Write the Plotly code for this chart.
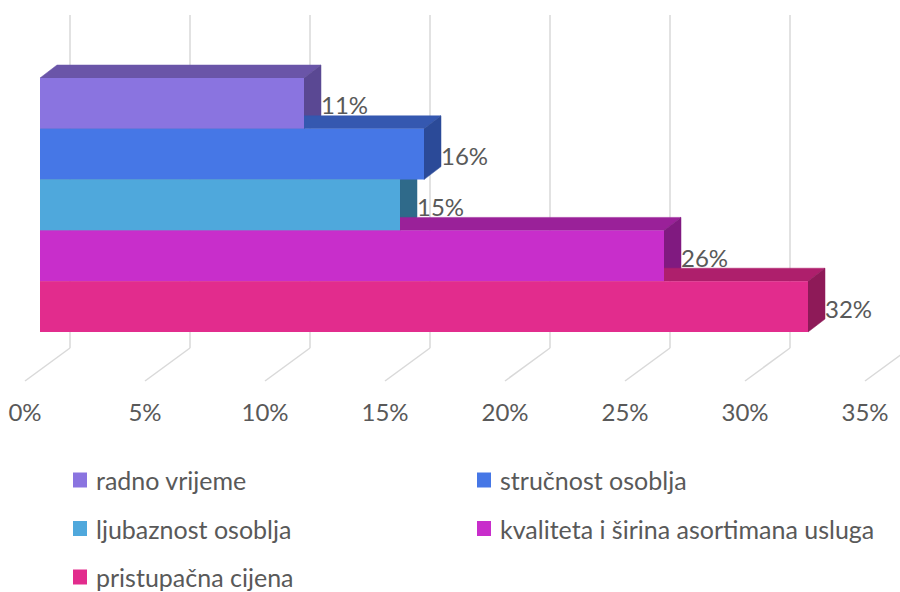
import plotly.graph_objects as go

# ---------------- data ----------------
CATEGORIES = ["radno vrijeme", "stručnost osoblja", "ljubaznost osoblja",
              "kvaliteta i širina asortimana usluga", "pristupačna cijena"]
VALUES = [11, 16, 15, 26, 32]
VALUE_LABELS = ["11%", "16%", "15%", "26%", "32%"]
TICK_VALUES = [0, 5, 10, 15, 20, 25, 30, 35]
TICK_LABELS = ["0%", "5%", "10%", "15%", "20%", "25%", "30%", "35%"]

FRONT_COLORS = ["#8A74E0", "#4677E6", "#4FA8DC", "#C82ECB", "#E22C8D"]
TOP_COLORS = ["#6A55A8", "#3558B0", "#3A7DA5", "#9A2199", "#AE1F6C"]
SIDE_COLORS = ["#5A4893", "#2B4A98", "#2F6A8A", "#801A80", "#8E1A58"]

# ---------------- geometry (pixels) ----------------
W, H = 900, 592
PLOT_BOTTOM = 392          # bottom of plotting area in px
PX_PER_PCT = 24.0          # horizontal scale
X0_PX = 25.0               # px of 0% on the floor's front edge
ROW_PX = 50.8              # height of one bar
FIRST_TOP_PX = 78.0        # top of first bar's front face
FONT = "Lato"
TXT = "#595959"
GRID = "#D9D9D9"

FRONT_OFF = 15 / PX_PER_PCT      # bar front plane shift
DEPTH_X = 17 / PX_PER_PCT        # bar depth (x)
DEPTH_Y = -13 / ROW_PX           # bar depth (y)
BACK_X = 45 / PX_PER_PCT         # back wall shift


def ypx(py):
    return -0.5 + (py - FIRST_TOP_PX) / ROW_PX


x_range = [(0 - X0_PX) / PX_PER_PCT, (W - X0_PX) / PX_PER_PCT]
y_range = [ypx(PLOT_BOTTOM), ypx(0)]
GRID_TOP = ypx(15)
FLOOR_BACK = ypx(348)
FLOOR_FRONT = ypx(381)

fig = go.Figure()

# 3D faces (top and side) on base axes
for i, v in enumerate(VALUES):
    y_top = i - 0.5
    y_bot = i + 0.5
    xl = FRONT_OFF
    xr = FRONT_OFF + v
    fig.add_trace(go.Scatter(
        x=[xl, xr, xr + DEPTH_X, xl + DEPTH_X, xl],
        y=[y_top, y_top, y_top + DEPTH_Y, y_top + DEPTH_Y, y_top],
        mode="lines", fill="toself", fillcolor=TOP_COLORS[i],
        line=dict(color=TOP_COLORS[i], width=0.5),
        hoverinfo="skip", showlegend=False))
    fig.add_trace(go.Scatter(
        x=[xr, xr + DEPTH_X, xr + DEPTH_X, xr, xr],
        y=[y_top, y_top + DEPTH_Y, y_bot + DEPTH_Y, y_bot, y_top],
        mode="lines", fill="toself", fillcolor=SIDE_COLORS[i],
        line=dict(color=SIDE_COLORS[i], width=0.5),
        hoverinfo="skip", showlegend=False))

# front faces as real bars on overlay axes (drawn above the faces)
fig.add_trace(go.Bar(
    x=VALUES, y=list(range(len(VALUES))), base=FRONT_OFF, orientation="h",
    width=1, marker=dict(color=FRONT_COLORS, line=dict(width=0)),
    xaxis="x2", yaxis="y2", showlegend=False,
    hovertext=CATEGORIES, hoverinfo="text+x"))

# value labels
fig.add_trace(go.Scatter(
    x=[FRONT_OFF + v + DEPTH_X for v in VALUES],
    y=[i + 5 / ROW_PX for i in range(len(VALUES))],
    mode="text", text=VALUE_LABELS, textposition="middle right",
    textfont=dict(family=FONT, size=24, color=TXT),
    xaxis="x2", yaxis="y2", showlegend=False, hoverinfo="skip"))

# gridlines: back wall + floor diagonals
shapes = []
for t in TICK_VALUES:
    shapes.append(dict(type="line", xref="x", yref="y", layer="below",
                       x0=t + BACK_X, x1=t + BACK_X, y0=GRID_TOP, y1=FLOOR_BACK,
                       line=dict(color=GRID, width=1.5)))
    shapes.append(dict(type="line", xref="x", yref="y", layer="below",
                       x0=t + BACK_X, x1=t, y0=FLOOR_BACK, y1=FLOOR_FRONT,
                       line=dict(color=GRID, width=1.5)))

# manual legend (two columns)
annotations = []
plot_h = PLOT_BOTTOM
for k, name in enumerate(CATEGORIES):
    col, row = k % 2, k // 2
    left = 73 + col * 404
    cy = 480 + row * 48.5
    shapes.append(dict(type="rect", xref="paper", yref="paper", layer="above",
                       x0=left / W, x1=(left + 14) / W,
                       y0=1 - (cy - 7.5) / plot_h, y1=1 - (cy + 7.5) / plot_h,
                       fillcolor=FRONT_COLORS[k], line=dict(width=0)))
    annotations.append(dict(xref="paper", yref="paper", x=(left + 21) / W,
                            y=1 - cy / plot_h, xanchor="left", yanchor="middle",
                            text=name, showarrow=False,
                            font=dict(family=FONT, size=25, color=TXT)))

fig.update_layout(
    width=W, height=H,
    margin=dict(l=0, r=0, t=0, b=H - PLOT_BOTTOM),
    paper_bgcolor="white", plot_bgcolor="white",
    showlegend=False,
    shapes=shapes, annotations=annotations,
    xaxis=dict(range=x_range, tickvals=TICK_VALUES, ticktext=TICK_LABELS,
               showgrid=False, zeroline=False, showline=False, ticks="",
               tickfont=dict(family=FONT, size=24, color=TXT),
               ticklabelstandoff=4, fixedrange=True),
    yaxis=dict(range=y_range, visible=False, fixedrange=True),
    xaxis2=dict(range=x_range, overlaying="x", anchor="y2", visible=False,
                fixedrange=True),
    yaxis2=dict(range=y_range, overlaying="y", anchor="x2", visible=False,
                fixedrange=True),
    barmode="overlay",
)

fig.write_html(
    "out.html",
    config={"displayModeBar": False},
    post_script="document.body.style.margin='0';"
                "document.body.style.overflow='hidden';",
)
